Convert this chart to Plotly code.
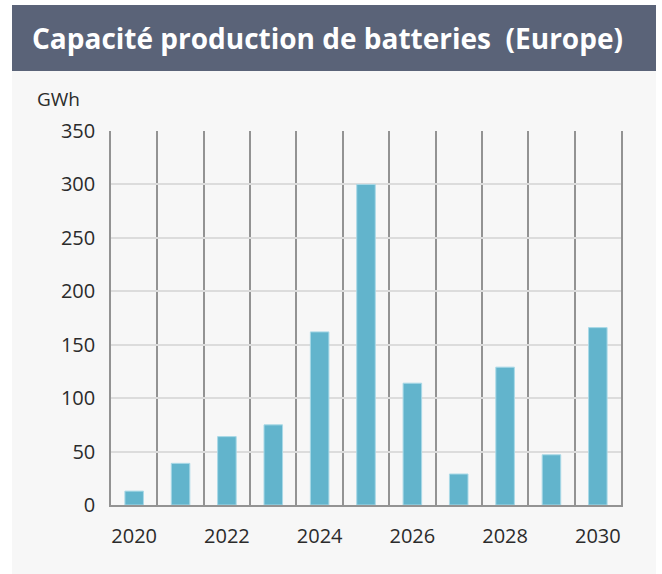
import plotly.graph_objects as go

years = ["2020", "2021", "2022", "2023", "2024", "2025", "2026", "2027", "2028", "2029", "2030"]
capacity_gwh = [13, 39, 64, 75, 162, 300, 114, 29, 129, 47, 166]
tick_labels = [y if int(y) % 2 == 0 else "" for y in years]
y_ticks = [0, 50, 100, 150, 200, 250, 300, 350]

W, H = 662, 574
L, R, T, B = 111, 41, 131, 69
pw, ph = W - L - R, H - T - B

def px(x):
    return (x - L) / pw

def py(y):
    return (H - B - y) / ph

font = "Open Sans"

fig = go.Figure()
fig.add_trace(go.Bar(
    x=years, y=capacity_gwh,
    marker=dict(color="#62b4cc", line=dict(color="#a9d9e7", width=1)),
))

fig.update_layout(
    width=W, height=H,
    margin=dict(l=L, r=R, t=T, b=B, autoexpand=False),
    paper_bgcolor="white",
    plot_bgcolor="rgba(0,0,0,0)",
    bargap=0.6,
    showlegend=False,
    font=dict(family=font, size=20, color="#2b2b2b"),
    xaxis=dict(
        type="category", automargin=False,
        tickmode="array", tickvals=years, ticktext=tick_labels,
        tickson="boundaries", ticks="", tickangle=0,
        showgrid=True, gridcolor="#939393", gridwidth=1.5,
        showline=True, linecolor="#939393", linewidth=2,
        ticklabelstandoff=12,
        tickfont=dict(family=font, size=20, color="#2b2b2b"),
    ),
    yaxis=dict(
        range=[0, 350], tickvals=y_ticks, automargin=False,
        showgrid=True, gridcolor="#dcdcdc", gridwidth=2,
        showline=True, linecolor="#939393", linewidth=1.5, mirror=True,
        zeroline=False, ticks="",
        ticklabelstandoff=10,
        tickfont=dict(family=font, size=20, color="#2b2b2b"),
    ),
    shapes=[
        dict(type="rect", xref="paper", yref="paper", layer="below",
             x0=px(12), x1=px(656), y0=py(574), y1=py(71),
             fillcolor="#f7f7f7", line=dict(width=0)),
        dict(type="rect", xref="paper", yref="paper", layer="below",
             x0=px(12), x1=px(656), y0=py(71), y1=py(5),
             fillcolor="#5a6378", line=dict(width=0)),
    ],
    annotations=[
        dict(text="<b>Capacité production de batteries  (Europe)</b>",
             xref="paper", yref="paper", x=px(30), y=py(38),
             xanchor="left", yanchor="middle", showarrow=False,
             font=dict(family=font, size=28, color="white")),
        dict(text="GWh", xref="paper", yref="paper", x=px(35), y=py(99),
             xanchor="left", yanchor="middle", showarrow=False,
             font=dict(family=font, size=19, color="#2b2b2b")),
    ],
)

fig.write_html("out.html", config={"displayModeBar": False},
               post_script="document.body.style.margin='0';document.body.style.overflow='hidden';")
